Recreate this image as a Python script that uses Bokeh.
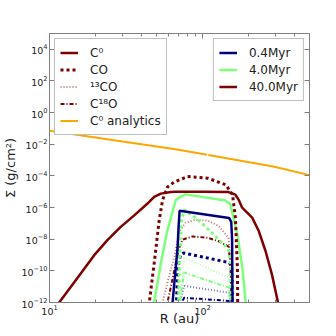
from bokeh.plotting import figure
from bokeh.models import (Legend, LegendItem, LogAxis, FixedTicker, CustomJSTickFormatter)
from bokeh.embed import file_html
from bokeh.resources import INLINE

nan = float("nan")

# ---------------- data (R in au, Sigma in g/cm^2) ----------------
ana_R = [10, 66.5, 107, nan, 109, 290, 500]
ana_S = [0.071, 4.9e-3, 2.16e-3, nan, 2.1e-3, 3.9e-4, 1.12e-4]

# 40 Myr
c0_40_R = [11.0, 11.57, 13.8, 16.0, 19.6, 23.9, 29.2, 35.8, 43.7, 48.3, 53.4, 62.1,
           66.6, 100, 148, 164, 172, 181.5, 211, 233, 258, 284, 308, 315]
c0_40_S = [4e-13, 1e-12, 9.8e-12, 6.9e-11, 9.8e-10, 8.7e-9, 6e-8, 3.2e-7, 1.8e-6, 4.7e-6, 7.6e-6, 9.5e-6,
           1e-5, 1e-5, 9.5e-6, 6.5e-6, 3.2e-6, 9.8e-7, 2.3e-7, 3.3e-8, 1.8e-9, 6e-11, 1.6e-12, 5e-13]
co_40_R = [44, 44.9, 48.3, 52.1, 54.8, 59, 65.3, 79.8, 108, 142, 157, 164, 169, 170]
co_40_S = [1e-13, 1e-12, 2.95e-10, 1.6e-7, 2.9e-6, 2e-5, 4.1e-5, 9.1e-5, 7.2e-5, 2.75e-5, 6.5e-6, 2.3e-7,
           1.6e-10, 1e-13]
c13_40_R = [54, 54.8, 59, 65.3, 70.8, 77.4, 90, 108, 127, 148, 152, 155, 156]
c13_40_S = [1e-13, 1e-12, 1.9e-11, 7.6e-10, 3.5e-8, 1.1e-7, 1.7e-7, 1.5e-7, 7.1e-8, 1.23e-8, 5.1e-10, 1e-12, 1e-13]
c18_40_R = [58, 59, 64.6, 69.7, 74, 86, 108, 128.6, 148, 152, 155, 156]
c18_40_S = [1e-13, 1e-12, 5.8e-11, 2.2e-9, 9.3e-9, 1.5e-8, 1.23e-8, 7.2e-9, 3.4e-9, 2.5e-10, 1e-12, 1e-13]

# 4 Myr
c0_4_R = [47.5, 48.3, 53.4, 59, 66.8, 70, 77.4, 141, 152, 169, 182, 191, 193]
c0_4_S = [1e-13, 1e-12, 2.95e-10, 3.7e-8, 2.9e-6, 4.2e-6, 6.8e-6, 2.8e-6, 1.6e-6, 1.95e-8, 1.6e-10, 1.26e-12, 1e-13]
co_4_R = [69, 69.7, 70.8, 73, 75.9, 89.9, 109, 141, 148.5, 152, 155]
co_4_S = [1e-13, 1e-12, 5e-10, 1.7e-7, 7.2e-7, 2.3e-7, 4.2e-8, 3.7e-9, 1.8e-9, 3.8e-10, 1e-13]
c13_4_R = [70, 70.8, 75.9, 148.5, 152, 153]
c13_4_S = [1e-13, 1e-12, 6.8e-10, 3.7e-11, 3.2e-12, 1e-13]
c18_4_R = [70.5, 71, 75.9, 149, 152, 153]
c18_4_S = [1e-13, 1e-12, 7.8e-11, 8.7e-12, 1e-12, 1e-13]

# 0.4 Myr
c0_04_R = [63, 63.7, 68.7, 69.7, 70.8, 149, 154, 156, 157, 158]
c0_04_S = [1e-13, 1e-12, 2.9e-9, 5.4e-8, 6.3e-7, 2.2e-7, 1.26e-7, 9.3e-9, 1e-12, 1e-13]
co_04_R = [67, 67.6, 68.7, 71.8, 75.1, 150, 155, 157]
co_04_S = [1e-13, 1e-12, 1.15e-10, 1e-9, 1.35e-9, 3.3e-10, 1.6e-10, 1e-13]
c13_04_R = [70.5, 71, 75.9, 149, 152, 153]
c13_04_S = [1e-13, 1e-12, 1.12e-11, 4.2e-12, 1e-12, 1e-13]
c18_04_R = [72, 73, 75.9, 149, 151, 152]
c18_04_S = [1e-13, 1e-12, 2e-12, 1.26e-12, 1e-12, 1e-13]

species_labels = ["C\u2070", "CO", "\u00b9\u00b3CO", "C\u00b9\u2078O", "C\u2070 analytics"]
time_labels = ["0.4Myr", "4.0Myr", "40.0Myr"]

x_major = [10, 100]
x_minor = [20, 30, 40, 50, 60, 70, 80, 90, 200, 300, 400]
y_major = [1e-12, 1e-10, 1e-8, 1e-6, 1e-4, 1e-2, 1e0, 1e2, 1e4]

# ---------------- style ----------------
NAVY = "#00007f"
GREEN = "#7dff7a"
DRED = "#7f0000"
ORANGE = "#ffa500"
GRAY = "#808080"
FONT = "DejaVu Sans"

p = figure(x_axis_type="log", y_axis_type="log",
           x_range=(10, 500), y_range=(1e-12, 1e5),
           frame_width=260, frame_height=269,
           min_border_left=42, min_border_top=33, min_border_right=8, min_border_bottom=20,
           output_backend="svg", toolbar_location=None)
p.grid.visible = False
p.outline_line_color = GRAY
p.background_fill_color = "white"
p.border_fill_color = "white"


def style_axis(ax, ticks, minor, labels=True):
    ax.ticker = FixedTicker(ticks=ticks, minor_ticks=minor)
    ax.axis_line_color = GRAY
    ax.major_tick_line_color = GRAY
    ax.minor_tick_line_color = GRAY
    ax.major_tick_in = 5
    ax.major_tick_out = 0
    ax.minor_tick_in = 3
    ax.minor_tick_out = 0
    ax.major_label_text_font = FONT
    ax.major_label_text_font_size = "9.5px"
    ax.major_label_text_color = "#222222"
    ax.major_label_standoff = 2
    if not labels:
        ax.formatter = CustomJSTickFormatter(code="return ''")
        ax.major_label_standoff = 0
        ax.major_label_text_font_size = "1px"


def style_title(ax, text, standoff, size):
    ax.axis_label = text
    ax.axis_label_text_font = FONT
    ax.axis_label_text_font_size = size
    ax.axis_label_text_font_style = "normal"
    ax.axis_label_text_color = "#222222"
    ax.axis_label_standoff = standoff


style_axis(p.xaxis[0], x_major, x_minor)
style_axis(p.yaxis[0], y_major, [])
style_title(p.xaxis[0], "R (au)", -7, "13px")
style_title(p.yaxis[0], "\u03a3 (g/cm\u00b2)", 0, "13px")

top = LogAxis()
style_axis(top, x_major, x_minor, labels=False)
p.add_layout(top, "above")
right = LogAxis()
style_axis(right, y_major, [], labels=False)
p.add_layout(right, "right")


def draw(R, S, color, kind):
    if kind == "c0":
        return p.line(R, S, line_color=color, line_width=2.5)
    if kind == "co":
        return p.line(R, S, line_color=color, line_width=3, line_dash="3 3")
    if kind == "c13":
        return p.line(R, S, line_color=color, line_width=2, line_dash="1 2", line_alpha=0.55)
    return p.line(R, S, line_color=color, line_width=2, line_dash="4 2 1 2")


r_ana = p.line(ana_R, ana_S, line_color=ORANGE, line_width=2)

draw(c18_04_R, c18_04_S, NAVY, "c18")
draw(c13_04_R, c13_04_S, NAVY, "c13")
draw(c18_4_R, c18_4_S, GREEN, "c18")
draw(c13_4_R, c13_4_S, GREEN, "c13")
draw(co_04_R, co_04_S, NAVY, "co")
r18 = draw(c18_40_R, c18_40_S, DRED, "c18")
r13 = draw(c13_40_R, c13_40_S, DRED, "c13")
draw(co_4_R, co_4_S, GREEN, "co")
r_04 = draw(c0_04_R, c0_04_S, NAVY, "c0")
r_4 = draw(c0_4_R, c0_4_S, GREEN, "c0")
rco = draw(co_40_R, co_40_S, DRED, "co")
r_40 = draw(c0_40_R, c0_40_S, DRED, "c0")


def make_legend(items, loc):
    lg = Legend(items=items, location=loc)
    lg.margin = 5
    lg.padding = 5
    lg.spacing = 0
    lg.glyph_width = 18
    lg.glyph_height = 17
    lg.label_height = 17
    lg.label_standoff = 12
    lg.label_text_font = FONT
    lg.label_text_font_size = "12px"
    lg.label_text_color = "#222222"
    lg.border_line_color = GRAY
    lg.border_line_width = 1
    lg.background_fill_color = "white"
    lg.background_fill_alpha = 1.0
    return lg


left_items = [LegendItem(label=species_labels[0], renderers=[r_40]),
              LegendItem(label=species_labels[1], renderers=[rco]),
              LegendItem(label=species_labels[2], renderers=[r13]),
              LegendItem(label=species_labels[3], renderers=[r18]),
              LegendItem(label=species_labels[4], renderers=[r_ana])]
right_items = [LegendItem(label=time_labels[0], renderers=[r_04]),
               LegendItem(label=time_labels[1], renderers=[r_4]),
               LegendItem(label=time_labels[2], renderers=[r_40])]
p.add_layout(make_legend(left_items, "top_left"))
p.add_layout(make_legend(right_items, "top_right"))

open("out.html", "w").write(file_html(p, INLINE))
